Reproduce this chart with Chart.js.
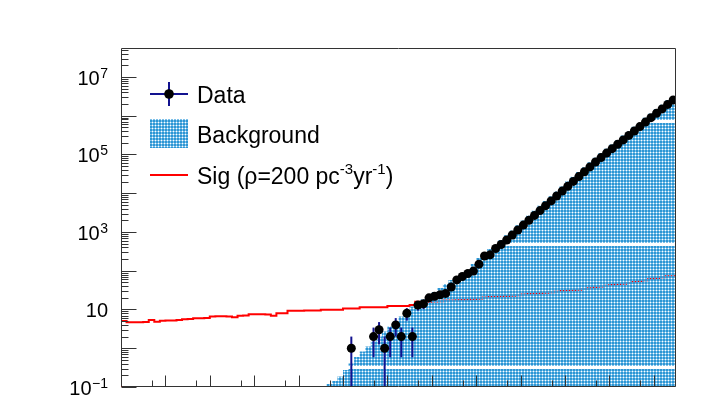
<!DOCTYPE html>
<html><head><meta charset="utf-8">
<script src="https://cdn.jsdelivr.net/npm/chart.js@4"></script>
<style>html,body{margin:0;padding:0;background:#fff;}#wrap{width:711px;height:399px;position:relative;}</style>
</head><body><div id="wrap"><canvas id="c" width="711" height="399"></canvas></div>
<script>
// ---- data (100 bins, x in bin units 0..100) ----
const nBins = 100;
const signal = [5.5,5.05,4.67,4.67,4.67,4.76,5.35,4.84,5.11,5.2,
 5.2,5.35,5.58,5.69,5.93,5.93,6.04,6.6,6.68,6.68,
 6.6,6.3,6.92,7.0,7.52,7.52,7.52,7.43,6.92,7.98,
 7.98,9.3,9.3,9.3,9.4,9.4,9.4,9.8,9.8,9.8,
 9.8,10.6,10.6,10.6,11.5,11.5,11.5,11.5,11.5,12.4,
 12.4,12.4,12.4,13.1,15.9,15.6,15.9,16.2,16.4,17.0,
 17.1,17.3,17.5,17.9,18.4,18.9,20.5,21.0,21.4,21.6,
 22.2,22.6,23.4,24.5,25.3,26.0,26.4,27.0,27.8,28.9,
 30.0,30.8,31.5,32.4,33.7,35.5,37.6,39.5,41.3,42.9,
 44.5,46.3,48.0,51.0,54.0,57.0,61.0,64.5,68.0,72.5];
const background = Array(37).fill(null).concat([
 0.106,0.119,0.143,0.187,0.275,0.404,0.594,0.824,1.11,1.49,
 2.01,2.70,3.64,4.90,6.59,8.87,11.9,14.7,18.7,22.3,
 28.3,35.9,45.5,57.7,69.0,82.4,104,149,213,270,
 364,470,615,830,1110,1490,1980,2650,3530,4730,
 6290,8400,11200,15000,20000,26700,35600,47400,63400,82300,
 107500,139800,181400,235800,308000,399600,519500,678600,882300,1144000,
 1488000,1943000,2521000]);
const dataCounts = Array(41).fill(null).concat([
 1,null,null,null,2,3,1,2,4,2,8,2,13,14,20,22,24,26,38,58,
 71,85,98,148,240,257,375,475,622,838,1127,1507,2004,2679,3565,4775,
 6353,8492,11350,15100,20230,26920,35970,47860,63970,83180,108650,141250,
 183230,238230,311170,403650,524810,685490,891250,1156000,1503000,1963000,2547000]);
const yMin = 0.1, yMax = 5.6e7;
const yTickValues = [0.1, 10, 1e3, 1e5, 1e7];
const yTickLabels = [['10','\u22121'],['10',''],['10','3'],['10','5'],['10','7']];
const xMajorTicks = [8,16,24,32,40,48,56,64,72,80,88,96];
const xMinorTicks = [5.6,13.6,21.6,29.6,37.6,45.6,53.6,61.6,69.6,77.6,85.6,93.6];
const legendData = 'Data';
const legendBkg = 'Background';
const legendSig = [['Sig (\u03c1=200 pc',0],['-3',1],['yr',0],['-1',1],[')',0]];

// ---- helpers ----
function stepPoints(vals, startAtMin){
  const pts = [];
  let last = null;
  for (let i=0;i<vals.length;i++){
    if (vals[i]==null) continue;
    if (startAtMin && pts.length===0) pts.push({x:i,y:yMin});
    pts.push({x:i,y:vals[i]}); last = vals[i];
  }
  pts.push({x:vals.length,y:last});
  return pts;
}
const canvas = document.getElementById('c');
const ctx = canvas.getContext('2d');
function makePattern(withBand){
  const t = document.createElement('canvas');
  t.width = 3; t.height = withBand ? 123 : 3;
  const g = t.getContext('2d');
  for (let y=0;y<t.height;y++) for (let x=0;x<3;x++){
    if (withBand && y>=120 && y<=122) continue;
    const xr=x%3, yr=y%3;
    if (xr===2 && yr===2) continue;
    g.fillStyle = (xr<2 && yr<2) ? 'rgb(45,150,212)' : 'rgba(95,178,228,0.8)';
    g.fillRect(x,y,1,1);
  }
  return ctx.createPattern(t,'repeat');
}
const bkgPattern = makePattern(true);
const legPattern = makePattern(false);

const errColor = '#12128f';
const axisColor = '#333';

const sigPts = stepPoints(signal, true);
const bkgPts = stepPoints(background, false);
const dataPts = [];
dataCounts.forEach((v,i)=>{ if (v!=null) dataPts.push({x:i+0.5,y:v}); });

const rootPlugin = {
  id:'rootStyle',
  beforeDatasetDraw(chart, args){
    if (args.index !== 2) return;
    const c = chart.ctx, ys = chart.scales.y, xs = chart.scales.x, a = chart.chartArea;
    c.save();
    c.beginPath(); c.rect(a.left,a.top,a.right-a.left,a.bottom-a.top); c.clip();
    c.strokeStyle = errColor; c.lineWidth = 2;
    dataPts.forEach(p=>{
      const e = Math.sqrt(p.y);
      const xp = xs.getPixelForValue(p.x);
      const hi = ys.getPixelForValue(p.y+e);
      const lo = (p.y-e) > yMin ? ys.getPixelForValue(p.y-e) : a.bottom+2;
      c.beginPath(); c.moveTo(xp,hi); c.lineTo(xp,lo); c.stroke();
    });
    c.restore();
  },
  afterDatasetsDraw(chart){
    const c = chart.ctx, ys = chart.scales.y, xs = chart.scales.x, a = chart.chartArea;
    c.save();
    c.strokeStyle = axisColor; c.lineWidth = 1;
    // frame
    c.beginPath();
    c.rect(Math.round(a.left)+0.5, Math.round(a.top)+0.5, Math.round(a.right-a.left)-1, Math.round(a.bottom-a.top)-1);
    c.stroke();
    // y ticks
    const L = Math.round(a.left)+0.5;
    for (let d=-1; d<=8; d++){
      for (let m=1; m<=9; m++){
        const v = m*Math.pow(10,d);
        if (v < yMin*0.999 || v > yMax) continue;
        const yp = Math.round(ys.getPixelForValue(v))+0.5;
        const len = m===1 ? 15 : 7;
        c.beginPath(); c.moveTo(L,yp); c.lineTo(L+len,yp); c.stroke();
      }
    }
    // x ticks
    const B = Math.round(a.bottom)-0.5;
    xMajorTicks.forEach(t=>{ const xp=Math.round(xs.getPixelForValue(t))+0.5; c.beginPath(); c.moveTo(xp,B); c.lineTo(xp,B-11); c.stroke(); });
    xMinorTicks.forEach(t=>{ const xp=Math.round(xs.getPixelForValue(t))+0.5; c.beginPath(); c.moveTo(xp,B); c.lineTo(xp,B-6); c.stroke(); });
    c.restore();
  },
  afterDraw(chart){
    const c = chart.ctx, ys = chart.scales.y;
    c.save();
    c.fillStyle = '#000';
    c.textBaseline = 'alphabetic';
    // y tick labels
    const right = 108;
    yTickValues.forEach((v,i)=>{
      const [base, exp] = yTickLabels[i];
      const yp = ys.getPixelForValue(v);
      c.font = '14px "Liberation Sans", Arial, sans-serif';
      const we = exp ? c.measureText(exp).width : 0;
      c.font = '20px "Liberation Sans", Arial, sans-serif';
      const wb = c.measureText(base).width;
      const x0 = right - we - wb - (exp?0.5:0);
      c.fillText(base, x0, yp+8);
      if (exp){ c.font = '14px "Liberation Sans", Arial, sans-serif'; c.fillText(exp, x0+wb+0.5, yp+1); }
    });
    // legend
    const lx1 = 150, lx2 = 188, tx = 197;
    // Data entry
    const y1 = 94;
    c.strokeStyle = errColor; c.lineWidth = 2;
    c.beginPath(); c.moveTo(lx1,y1); c.lineTo(lx2,y1); c.moveTo(169,y1-12); c.lineTo(169,y1+12); c.stroke();
    c.fillStyle = '#000'; c.beginPath(); c.arc(169,y1,4.8,0,Math.PI*2); c.fill();
    c.font = '23px "Liberation Sans", Arial, sans-serif';
    c.fillText(legendData, tx, y1+8.5);
    // Background entry
    const y2 = 134;
    c.fillStyle = legPattern; c.fillRect(lx1,119,lx2-lx1,29);
    c.fillStyle = '#000';
    c.fillText(legendBkg, tx, y2+8.5);
    // Signal entry
    const y3 = 175;
    c.strokeStyle = '#ff0000'; c.lineWidth = 2;
    c.beginPath(); c.moveTo(lx1,y3); c.lineTo(lx2,y3); c.stroke();
    let x = tx;
    legendSig.forEach(([s,sup])=>{
      c.font = sup ? '15px "Liberation Sans", Arial, sans-serif' : '23px "Liberation Sans", Arial, sans-serif';
      c.fillText(s, x, sup ? y3-1 : y3+8.5);
      x += c.measureText(s).width;
    });
    c.restore();
  }
};

new Chart(canvas, {
  type:'line',
  data:{ datasets:[
    { label:'Sig', data:sigPts, stepped:'after', borderColor:'#ff0000', borderWidth:2, pointRadius:0, fill:false, order:2 },
    { label:'Background', data:bkgPts, stepped:'after', borderWidth:0, borderColor:'rgba(0,0,0,0)', backgroundColor:bkgPattern, pointRadius:0, fill:'start', order:1 },
    { label:'Data', data:dataPts, showLine:false, pointRadius:4.5, pointHoverRadius:4.5, pointBackgroundColor:'#000', pointBorderWidth:0, order:0 }
  ]},
  options:{
    responsive:false, animation:false, devicePixelRatio:1,
    layout:{padding:{left:121,right:35,top:48,bottom:12}},
    scales:{
      x:{type:'linear',min:0,max:nBins,display:false},
      y:{type:'logarithmic',min:yMin,max:yMax,display:false}
    },
    plugins:{legend:{display:false},tooltip:{enabled:false}},
    events:[]
  },
  plugins:[rootPlugin]
});
</script></body></html>
